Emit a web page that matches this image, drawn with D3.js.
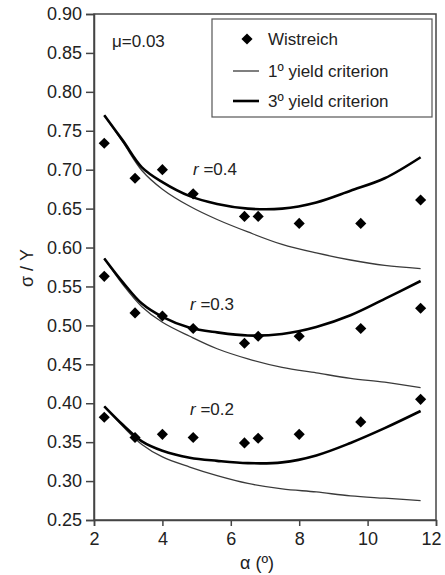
<!DOCTYPE html>
<html>
<head>
<meta charset="utf-8">
<script src="https://cdn.jsdelivr.net/npm/d3@7"></script>
<style>
  body { margin: 0; background: #fff; }
  text { font-family: "Liberation Sans", Arial, sans-serif; fill: #222; }
</style>
</head>
<body>
<svg id="chart" width="445" height="575"></svg>
<script>
// measured points (Wistreich)
const alphaPts = [2.3, 3.2, 4.0, 4.9, 6.4, 6.8, 8.0, 9.8, 11.55];
const wis04 = [0.734, 0.689, 0.700, 0.669, 0.640, 0.640, 0.631, 0.631, 0.661];
const wis03 = [0.563, 0.516, 0.512, 0.496, 0.477, 0.486, 0.486, 0.496, 0.522];
const wis02 = [0.382, 0.356, 0.360, 0.356, 0.349, 0.355, 0.360, 0.376, 0.405];

// model curves
const alphaCurve = [2.3, 2.85, 3.4, 4.0, 4.8, 5.6, 6.5, 7.5, 8.5, 9.5, 10.5, 11.55];
const third04 = [0.770, 0.737, 0.703, 0.684, 0.666, 0.656, 0.650, 0.650, 0.658, 0.673, 0.689, 0.716];
const first04 = [0.770, 0.735, 0.699, 0.675, 0.653, 0.636, 0.620, 0.604, 0.593, 0.584, 0.577, 0.573];
const third03 = [0.586, 0.555, 0.528, 0.511, 0.497, 0.491, 0.487, 0.489, 0.498, 0.513, 0.534, 0.557];
const first03 = [0.586, 0.552, 0.524, 0.504, 0.486, 0.470, 0.457, 0.446, 0.439, 0.432, 0.427, 0.420];
const third02 = [0.396, 0.372, 0.351, 0.339, 0.330, 0.326, 0.323, 0.324, 0.333, 0.349, 0.368, 0.390];
const first02 = [0.396, 0.370, 0.347, 0.331, 0.318, 0.307, 0.297, 0.290, 0.286, 0.281, 0.278, 0.275];

const xTicks = [2, 4, 6, 8, 10, 12];
const yTicks = d3.range(0.25, 0.9001, 0.05);

const svg = d3.select("#chart");

const x = d3.scaleLinear().domain([2, 12]).range([94, 436]);
const y = d3.scaleLinear().domain([0.25, 0.90]).range([520, 14]);

// frame
svg.append("rect")
    .attr("x", x(2))
    .attr("y", y(0.90))
    .attr("width", x(12) - x(2))
    .attr("height", y(0.25) - y(0.90))
    .attr("fill", "none")
    .attr("stroke", "#444")
    .attr("stroke-width", 1.5);

const yAxis = svg.append("g")
    .attr("transform", `translate(${x(2)},0)`)
    .call(d3.axisLeft(y).tickValues(yTicks).tickSize(8).tickPadding(4).tickFormat(d3.format(".2f")));

const xAxis = svg.append("g")
    .attr("transform", `translate(0,${y(0.25)})`)
    .call(d3.axisBottom(x).tickValues(xTicks).tickSize(6).tickPadding(6).tickFormat(d3.format("d")));

[xAxis, yAxis].forEach(a => {
    a.select(".domain").attr("stroke", "#444").attr("stroke-width", 1.5);
    a.selectAll(".tick line").attr("stroke", "#444").attr("stroke-width", 1.5);
    a.selectAll(".tick text")
        .attr("font-size", 18)
        .attr("font-family", "Liberation Sans, Arial, sans-serif")
        .attr("fill", "#222");
});

// last x label sits against the edge
xAxis.selectAll(".tick text").filter(d => d === 12).attr("dx", -5);

// axis titles
svg.append("text")
    .attr("transform", "translate(33,268) rotate(-90)")
    .attr("text-anchor", "middle")
    .attr("font-size", 18)
    .text("σ / Y");

svg.append("text")
    .attr("x", 257)
    .attr("y", 569)
    .attr("text-anchor", "middle")
    .attr("font-size", 18)
    .text("α (º)");

// curves
const line = d3.line()
    .x(d => x(d[0]))
    .y(d => y(d[1]))
    .curve(d3.curveCatmullRom.alpha(0.5));

const firsts = [first04, first03, first02];
const thirds = [third04, third03, third02];

firsts.forEach(s => {
    svg.append("path")
        .attr("d", line(alphaCurve.map((a, i) => [a, s[i]])))
        .attr("fill", "none")
        .attr("stroke", "#3a3a3a")
        .attr("stroke-width", 1.3);
});

thirds.forEach(s => {
    svg.append("path")
        .attr("d", line(alphaCurve.map((a, i) => [a, s[i]])))
        .attr("fill", "none")
        .attr("stroke", "#000")
        .attr("stroke-width", 2.6);
});

// diamonds
const diamond = d3.symbol().type(d3.symbolSquare).size(62);

[wis04, wis03, wis02].forEach(s => {
    svg.append("g")
        .selectAll("path")
        .data(alphaPts.map((a, i) => [a, s[i]]))
        .enter()
        .append("path")
        .attr("d", diamond)
        .attr("transform", d => `translate(${x(d[0])},${y(d[1])}) rotate(45)`)
        .attr("fill", "#000");
});

// r labels
const rLabels = [
    { t: "0.4", x: 193, y: 175 },
    { t: "0.3", x: 190, y: 310 },
    { t: "0.2", x: 190, y: 415 }
];

rLabels.forEach(l => {
    const t = svg.append("text")
        .attr("x", l.x)
        .attr("y", l.y)
        .attr("font-size", 17);
    t.append("tspan").attr("font-style", "italic").text("r");
    t.append("tspan").text(" =" + l.t);
});

svg.append("text")
    .attr("x", 112)
    .attr("y", 47)
    .attr("font-size", 17)
    .text("μ=0.03");

// legend
const lg = svg.append("g");

lg.append("rect")
    .attr("x", 212)
    .attr("y", 19)
    .attr("width", 220)
    .attr("height", 98)
    .attr("fill", "#fff")
    .attr("stroke", "#555")
    .attr("stroke-width", 1.2);

lg.append("path")
    .attr("d", diamond)
    .attr("transform", "translate(247,39) rotate(45)")
    .attr("fill", "#000");

lg.append("line")
    .attr("x1", 233).attr("x2", 259)
    .attr("y1", 71).attr("y2", 71)
    .attr("stroke", "#3a3a3a")
    .attr("stroke-width", 1.3);

lg.append("line")
    .attr("x1", 233).attr("x2", 259)
    .attr("y1", 101).attr("y2", 101)
    .attr("stroke", "#000")
    .attr("stroke-width", 2.6);

const legendText = ["Wistreich", "1º yield criterion", "3º yield criterion"];
const legendY = [45, 77, 107];

legendText.forEach((s, i) => {
    lg.append("text")
        .attr("x", 268)
        .attr("y", legendY[i])
        .attr("font-size", 17)
        .text(s);
});
</script>
</body>
</html>
